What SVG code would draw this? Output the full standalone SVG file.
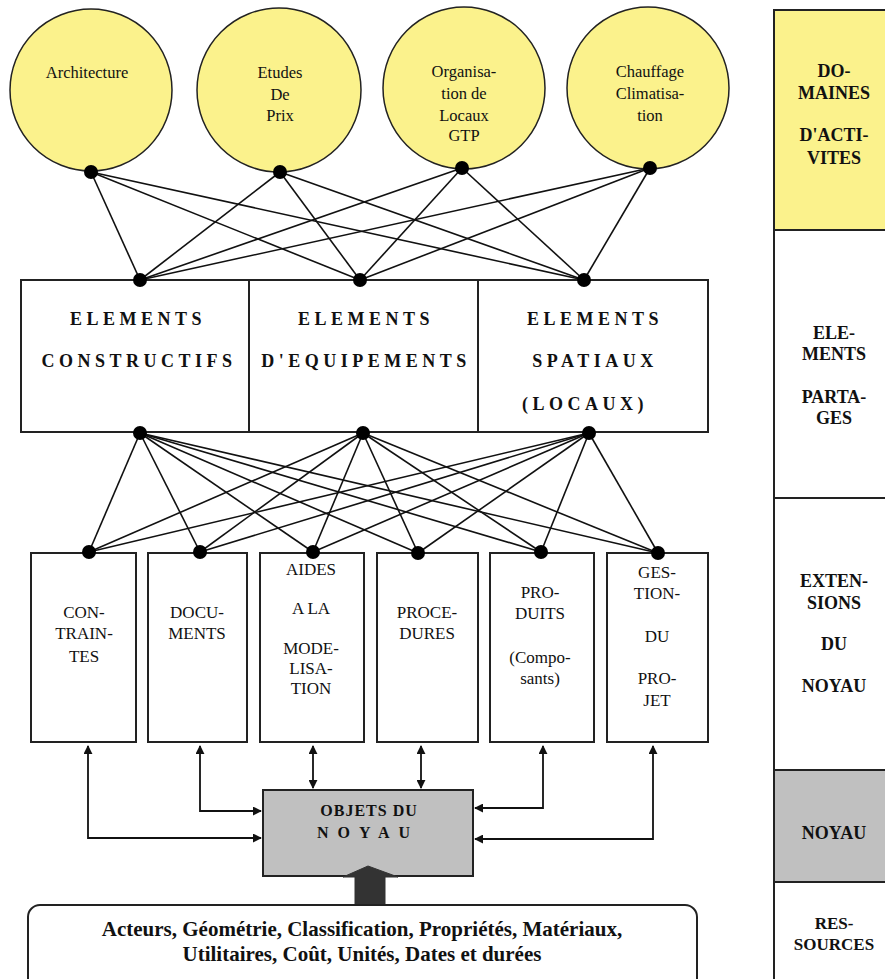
<svg xmlns="http://www.w3.org/2000/svg" width="885" height="979" viewBox="0 0 885 979">
<defs>
<style>
.circ{fill:#fbf28c;stroke:#222;stroke-width:1.5}
.box{fill:#fff;stroke:#222;stroke-width:2}
.gray{fill:#c0c0c0;stroke:#222;stroke-width:2}
.dot{fill:#000}
.ln{stroke:#111;stroke-width:1.6;fill:none}
.ar{stroke:#111;stroke-width:1.8;fill:none}
.ct{font-family:"Liberation Serif",serif;font-size:16.5px;text-anchor:middle;fill:#111}
.bt{font-family:"Liberation Serif",serif;font-size:17px;text-anchor:middle;fill:#111}
.wide{font-family:"Liberation Serif",serif;font-size:18px;font-weight:bold;letter-spacing:4.5px;text-anchor:middle;fill:#111}
.side{font-family:"Liberation Serif",serif;font-size:18px;font-weight:bold;text-anchor:middle;fill:#111}
.res{font-family:"Liberation Serif",serif;font-size:21px;font-weight:bold;text-anchor:middle;fill:#111}
</style>
<marker id="ah" viewBox="0 0 10 10" refX="9" refY="5" markerWidth="9" markerHeight="9" markerUnits="userSpaceOnUse" orient="auto-start-reverse">
<path d="M0,0 L10,5 L0,10 z" fill="#111"/>
</marker>
</defs>
<rect width="885" height="979" fill="#fff"/>

<g id="legend">
<rect x="774" y="10" width="115" height="220" fill="#fbf28c" stroke="#222" stroke-width="2"/>
<rect x="774" y="230" width="115" height="268" fill="#fff" stroke="#222" stroke-width="2"/>
<rect x="774" y="498" width="115" height="272" fill="#fff" stroke="#222" stroke-width="2"/>
<rect x="774" y="770" width="115" height="112" fill="#c0c0c0" stroke="#222" stroke-width="2"/>
<rect x="774" y="882" width="115" height="100" fill="#fff" stroke="#222" stroke-width="2"/>
<text class="side" x="834" y="77">DO-</text>
<text class="side" x="834" y="99">MAINES</text>
<text class="side" x="834" y="141">D'ACTI-</text>
<text class="side" x="834" y="164">VITES</text>
<text class="side" x="834" y="339">ELE-</text>
<text class="side" x="834" y="360">MENTS</text>
<text class="side" x="834" y="403">PARTA-</text>
<text class="side" x="834" y="424">GES</text>
<text class="side" x="834" y="587">EXTEN-</text>
<text class="side" x="834" y="609">SIONS</text>
<text class="side" x="834" y="650">DU</text>
<text class="side" x="834" y="692">NOYAU</text>
<text class="side" x="834" y="839">NOYAU</text>
<text class="side" x="834" y="929" style="font-size:17px">RES-</text>
<text class="side" x="834" y="950" style="font-size:17px">SOURCES</text>
</g>

<g id="connectors">
<line class="ln" x1="91" y1="172" x2="140" y2="280"/>
<line class="ln" x1="91" y1="172" x2="360" y2="280"/>
<line class="ln" x1="91" y1="172" x2="584" y2="280"/>
<line class="ln" x1="280" y1="172" x2="140" y2="280"/>
<line class="ln" x1="280" y1="172" x2="360" y2="280"/>
<line class="ln" x1="280" y1="172" x2="584" y2="280"/>
<line class="ln" x1="462" y1="168" x2="140" y2="280"/>
<line class="ln" x1="462" y1="168" x2="360" y2="280"/>
<line class="ln" x1="462" y1="168" x2="584" y2="280"/>
<line class="ln" x1="650" y1="168" x2="140" y2="280"/>
<line class="ln" x1="650" y1="168" x2="360" y2="280"/>
<line class="ln" x1="650" y1="168" x2="584" y2="280"/>

<line class="ln" x1="140" y1="433" x2="89" y2="552"/>
<line class="ln" x1="140" y1="433" x2="200" y2="552"/>
<line class="ln" x1="140" y1="433" x2="313" y2="552"/>
<line class="ln" x1="140" y1="433" x2="418" y2="553"/>
<line class="ln" x1="140" y1="433" x2="541" y2="552"/>
<line class="ln" x1="140" y1="433" x2="658" y2="553"/>
<line class="ln" x1="363" y1="433" x2="89" y2="552"/>
<line class="ln" x1="363" y1="433" x2="200" y2="552"/>
<line class="ln" x1="363" y1="433" x2="313" y2="552"/>
<line class="ln" x1="363" y1="433" x2="418" y2="553"/>
<line class="ln" x1="363" y1="433" x2="541" y2="552"/>
<line class="ln" x1="363" y1="433" x2="658" y2="553"/>
<line class="ln" x1="589" y1="433" x2="89" y2="552"/>
<line class="ln" x1="589" y1="433" x2="200" y2="552"/>
<line class="ln" x1="589" y1="433" x2="313" y2="552"/>
<line class="ln" x1="589" y1="433" x2="418" y2="553"/>
<line class="ln" x1="589" y1="433" x2="541" y2="552"/>
<line class="ln" x1="589" y1="433" x2="658" y2="553"/>

<polyline class="ar" points="88,746 88,838 261,838" marker-start="url(#ah)" marker-end="url(#ah)"/>
<polyline class="ar" points="200,746 200,811 261,811" marker-start="url(#ah)" marker-end="url(#ah)"/>
<line class="ar" x1="313" y1="746" x2="313" y2="788" marker-start="url(#ah)" marker-end="url(#ah)"/>
<line class="ar" x1="421" y1="746" x2="421" y2="788" marker-start="url(#ah)" marker-end="url(#ah)"/>
<polyline class="ar" points="543,746 543,808 475,808" marker-start="url(#ah)" marker-end="url(#ah)"/>
<polyline class="ar" points="653,746 653,839 475,839" marker-start="url(#ah)" marker-end="url(#ah)"/>
</g>

<g id="architecture">
<circle class="circ" cx="91" cy="90" r="81"/>
<text class="ct" x="87" y="78">Architecture</text>
<circle class="dot" cx="91" cy="172" r="7"/>
</g>
<g id="etudes">
<circle class="circ" cx="279" cy="90" r="82"/>
<text class="ct" x="280" y="78">Etudes</text>
<text class="ct" x="280" y="100">De</text>
<text class="ct" x="280" y="121">Prix</text>
<circle class="dot" cx="280" cy="172" r="7"/>
</g>
<g id="organisation">
<circle class="circ" cx="464" cy="88" r="81"/>
<text class="ct" x="464" y="77">Organisa-</text>
<text class="ct" x="464" y="99">tion de</text>
<text class="ct" x="464" y="121">Locaux</text>
<text class="ct" x="464" y="141">GTP</text>
<circle class="dot" cx="462" cy="168" r="7"/>
</g>
<g id="chauffage">
<circle class="circ" cx="648" cy="88" r="81"/>
<text class="ct" x="650" y="77">Chauffage</text>
<text class="ct" x="650" y="99">Climatisa-</text>
<text class="ct" x="650" y="121">tion</text>
<circle class="dot" cx="650" cy="168" r="7"/>
</g>

<g id="elements-constructifs">
<rect class="box" x="21" y="280" width="228" height="152"/>
<text class="wide" x="138" y="325">ELEMENTS</text>
<text class="wide" x="139" y="367">CONSTRUCTIFS</text>
<circle class="dot" cx="140" cy="280" r="7"/>
<circle class="dot" cx="140" cy="433" r="7"/>
</g>
<g id="elements-equipements">
<rect class="box" x="249" y="280" width="229" height="152"/>
<text class="wide" x="366" y="325">ELEMENTS</text>
<text class="wide" x="366" y="367">D'EQUIPEMENTS</text>
<circle class="dot" cx="360" cy="280" r="7"/>
<circle class="dot" cx="363" cy="433" r="7"/>
</g>
<g id="elements-spatiaux">
<rect class="box" x="478" y="280" width="230" height="152"/>
<text class="wide" x="595" y="325">ELEMENTS</text>
<text class="wide" x="595" y="367">SPATIAUX</text>
<text class="wide" x="585" y="410">(LOCAUX)</text>
<circle class="dot" cx="584" cy="280" r="7"/>
<circle class="dot" cx="589" cy="433" r="7"/>
</g>

<g id="contraintes">
<rect class="box" x="31" y="553" width="105" height="189"/>
<text class="bt" x="84" y="618">CON-</text>
<text class="bt" x="84" y="639">TRAIN-</text>
<text class="bt" x="84" y="662">TES</text>
<circle class="dot" cx="89" cy="552" r="7"/>
</g>
<g id="documents">
<rect class="box" x="148" y="553" width="99" height="189"/>
<text class="bt" x="197" y="618">DOCU-</text>
<text class="bt" x="197" y="639">MENTS</text>
<circle class="dot" cx="200" cy="552" r="7"/>
</g>
<g id="aides">
<rect class="box" x="260" y="553" width="104" height="189"/>
<text class="bt" x="311" y="575">AIDES</text>
<text class="bt" x="311" y="614">A LA</text>
<text class="bt" x="311" y="654">MODE-</text>
<text class="bt" x="311" y="674">LISA-</text>
<text class="bt" x="311" y="694">TION</text>
<circle class="dot" cx="313" cy="552" r="7"/>
</g>
<g id="procedures">
<rect class="box" x="377" y="553" width="101" height="189"/>
<text class="bt" x="427" y="618">PROCE-</text>
<text class="bt" x="427" y="639">DURES</text>
<circle class="dot" cx="418" cy="553" r="7"/>
</g>
<g id="produits">
<rect class="box" x="490" y="553" width="104" height="189"/>
<text class="bt" x="540" y="598">PRO-</text>
<text class="bt" x="540" y="619">DUITS</text>
<text class="bt" x="540" y="663">(Compo-</text>
<text class="bt" x="540" y="684">sants)</text>
<circle class="dot" cx="541" cy="552" r="7"/>
</g>
<g id="gestion">
<rect class="box" x="607" y="553" width="101" height="189"/>
<text class="bt" x="657" y="578">GES-</text>
<text class="bt" x="657" y="599">TION-</text>
<text class="bt" x="657" y="642">DU</text>
<text class="bt" x="657" y="684">PRO-</text>
<text class="bt" x="657" y="706">JET</text>
<circle class="dot" cx="658" cy="553" r="7"/>
</g>

<g id="objets-du-noyau">
<rect class="gray" x="263" y="790" width="210" height="86"/>
<text class="side" x="369" y="816" style="font-size:16px;letter-spacing:1px">OBJETS DU</text>
<text class="side" x="368" y="838" style="font-size:16px;letter-spacing:9px">NOYAU</text>
</g>

<g id="big-arrow">
<path d="M355,905 L355,877 L343,877 L368,866 L398,877 L385,877 L385,905 z" fill="#333" stroke="#333" stroke-width="1"/>
</g>

<g id="ressources">
<rect x="28" y="905" width="669" height="90" rx="12" ry="12" fill="#fff" stroke="#222" stroke-width="2"/>
<text class="res" x="362" y="936">Acteurs, Géométrie, Classification, Propriétés, Matériaux,</text>
<text class="res" x="362" y="961">Utilitaires, Coût, Unités, Dates et durées</text>
</g>
</svg>
